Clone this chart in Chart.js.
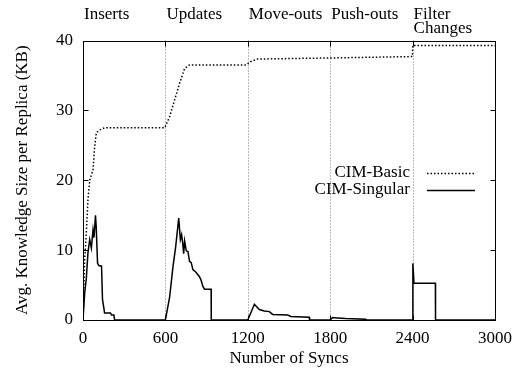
<!DOCTYPE html>
<html>
<head>
<meta charset="utf-8">
<script src="https://cdn.jsdelivr.net/npm/chart.js@4/dist/chart.umd.min.js"></script>
<style>
  html, body { margin: 0; padding: 0; background: #fff; }
  #wrap { width: 520px; height: 377px; }
</style>
</head>
<body>
<div id="wrap"><canvas id="chart" width="520" height="377"></canvas></div>
<script>
// ==================== DATA ====================
const phaseNames = ['Inserts', 'Updates', 'Move-outs', 'Push-outs', 'Filter\nChanges'];
const phaseStarts = [0, 600, 1200, 1800, 2400];
const xTicks = [0, 600, 1200, 1800, 2400, 3000];
const yTicks = [0, 10, 20, 30, 40];

// CIM-Basic (dotted)
const basicSyncs = [0, 12, 24, 36, 49, 73, 85, 97, 121, 157, 595, 631, 667, 704, 740, 776, 1187, 1223, 1272, 1800, 2398, 2401, 3000];
const basicKB    = [0, 8.6, 12.4, 17.2, 20, 21.5, 24.8, 26.8, 27.2, 27.5, 27.5, 29.1, 31.5, 33.9, 36.0, 36.5, 36.5, 37.0, 37.35, 37.5, 37.7, 39.3, 39.3];

// CIM-Singular (solid)
const singularSyncs = [0, 12, 24, 36, 49, 61, 73, 80, 91, 96, 106, 115, 135, 142, 152, 157, 200, 208, 225, 230,
  600, 631, 655, 675, 697, 709, 718, 726, 733, 740, 752, 764, 776, 788, 800, 824, 848, 860, 873, 885, 897, 933, 934,
  1200, 1248, 1284, 1320, 1357, 1381, 1490, 1514, 1647, 1650,
  1800, 1817, 1850, 1914, 2059, 2062,
  2400, 2402, 2410, 2566, 2567, 3000];
const singularKB = [0, 3.8, 5.9, 9.6, 11.5, 10.3, 12.9, 11.8, 15.0, 13.4, 8.1, 7.8, 7.7, 2.9, 1.7, 1.0, 1.0, 0.7, 0.7, 0,
  0, 3.3, 7.6, 10.5, 14.6, 11.5, 12.2, 11.0, 9.5, 11.3, 9.9, 9.8, 8.4, 8.2, 7.2, 6.8, 6.2, 5.7, 4.8, 4.4, 4.4, 4.4, 0,
  0, 2.25, 1.5, 1.3, 1.2, 0.8, 0.7, 0.5, 0.4, 0,
  0, 0.35, 0.3, 0.2, 0.1, 0,
  0, 8.1, 5.25, 5.25, 0, 0];

const FONT = 'Liberation Serif, Times New Roman, serif';
const FS = 17;

// ==================== FRAME / TICKS / LABELS PLUGIN ====================
const gnuplotFrame = {
  id: 'gnuplotFrame',
  beforeDatasetsDraw(chart) {
    const { ctx, chartArea: a, scales: { x } } = chart;
    ctx.save();
    // phase separators
    ctx.strokeStyle = '#777';
    ctx.lineWidth = 1;
    ctx.setLineDash([1, 2]);
    phaseStarts.slice(1).forEach(v => {
      const px = Math.round(x.getPixelForValue(v)) + 0.5;
      ctx.beginPath();
      ctx.moveTo(px, a.top);
      ctx.lineTo(px, a.bottom);
      ctx.stroke();
    });
    ctx.restore();
  },
  afterDatasetsDraw(chart) {
    const { ctx, chartArea: a, scales: { x, y } } = chart;
    ctx.save();
    ctx.strokeStyle = '#000';
    ctx.lineWidth = 1;
    ctx.setLineDash([]);
    const L = Math.round(a.left) + 0.5, R = Math.round(a.right) + 0.5;
    const T = Math.round(a.top) + 0.5, B = Math.round(a.bottom) + 0.5;
    ctx.strokeRect(L, T, R - L, B - T);
    // inward ticks
    ctx.beginPath();
    yTicks.forEach(v => {
      const py = Math.round(y.getPixelForValue(v)) + 0.5;
      ctx.moveTo(L, py); ctx.lineTo(L + 5, py);
      ctx.moveTo(R, py); ctx.lineTo(R - 5, py);
    });
    xTicks.forEach(v => {
      const px = Math.round(x.getPixelForValue(v)) + 0.5;
      ctx.moveTo(px, B); ctx.lineTo(px, B - 5);
      ctx.moveTo(px, T); ctx.lineTo(px, T + 5);
    });
    ctx.stroke();

    // phase names on top
    ctx.fillStyle = '#000';
    ctx.font = FS + 'px ' + FONT;
    ctx.textAlign = 'left';
    ctx.textBaseline = 'alphabetic';
    phaseNames.forEach((name, i) => {
      const px = x.getPixelForValue(phaseStarts[i]) + 1;
      name.split('\n').forEach((line, j) => {
        ctx.fillText(line, px, 19 + j * 14);
      });
    });

    // legend inside plot
    chart.data.datasets.forEach((ds, i) => {
      const ly = 173 + i * 17;
      ctx.textAlign = 'right';
      ctx.textBaseline = 'middle';
      ctx.fillText(ds.label, 410, ly);
      ctx.strokeStyle = ds.borderColor;
      ctx.lineWidth = ds.borderWidth;
      ctx.setLineDash(ds.borderDash || []);
      ctx.beginPath();
      ctx.moveTo(427, ly + 0.5);
      ctx.lineTo(475, ly + 0.5);
      ctx.stroke();
    });
    ctx.restore();
  }
};

// ==================== CHART ====================
const toPoints = (xs, ys) => xs.map((v, i) => ({ x: v, y: ys[i] }));

new Chart(document.getElementById('chart').getContext('2d'), {
  type: 'line',
  data: {
    datasets: [
      {
        label: 'CIM-Basic',
        data: toPoints(basicSyncs, basicKB),
        borderColor: '#000',
        borderWidth: 1.5,
        borderDash: [1.5, 2],
        pointRadius: 0,
        tension: 0,
        fill: false
      },
      {
        label: 'CIM-Singular',
        data: toPoints(singularSyncs, singularKB),
        borderColor: '#000',
        borderWidth: 1.5,
        pointRadius: 0,
        tension: 0,
        fill: false
      }
    ]
  },
  options: {
    responsive: false,
    animation: false,
    layout: { padding: { left: 12, right: 23.5, top: 40.5, bottom: 8 } },
    plugins: { legend: { display: false }, tooltip: { enabled: false } },
    scales: {
      x: {
        type: 'linear',
        min: 0,
        max: 3000,
        afterBuildTicks: s => { s.ticks = xTicks.map(v => ({ value: v })); },
        afterFit: s => { s.height = 49; },
        grid: { display: false, drawTicks: false },
        border: { display: false },
        ticks: { color: '#000', padding: 8, maxRotation: 0, callback: v => String(v), font: { family: FONT, size: FS } },
        title: { display: true, text: 'Number of Syncs', color: '#000', padding: 0, font: { family: FONT, size: FS } }
      },
      y: {
        min: 0,
        max: 40,
        afterBuildTicks: s => { s.ticks = yTicks.map(v => ({ value: v })); },
        afterFit: s => { s.width = 71; },
        grid: { display: false, drawTicks: false },
        border: { display: false },
        ticks: { color: '#000', padding: 10, callback: v => String(v), font: { family: FONT, size: FS } },
        title: { display: true, text: 'Avg. Knowledge Size per Replica (KB)', color: '#000', padding: 0, font: { family: FONT, size: FS } }
      }
    }
  },
  plugins: [gnuplotFrame]
});
</script>
</body>
</html>
